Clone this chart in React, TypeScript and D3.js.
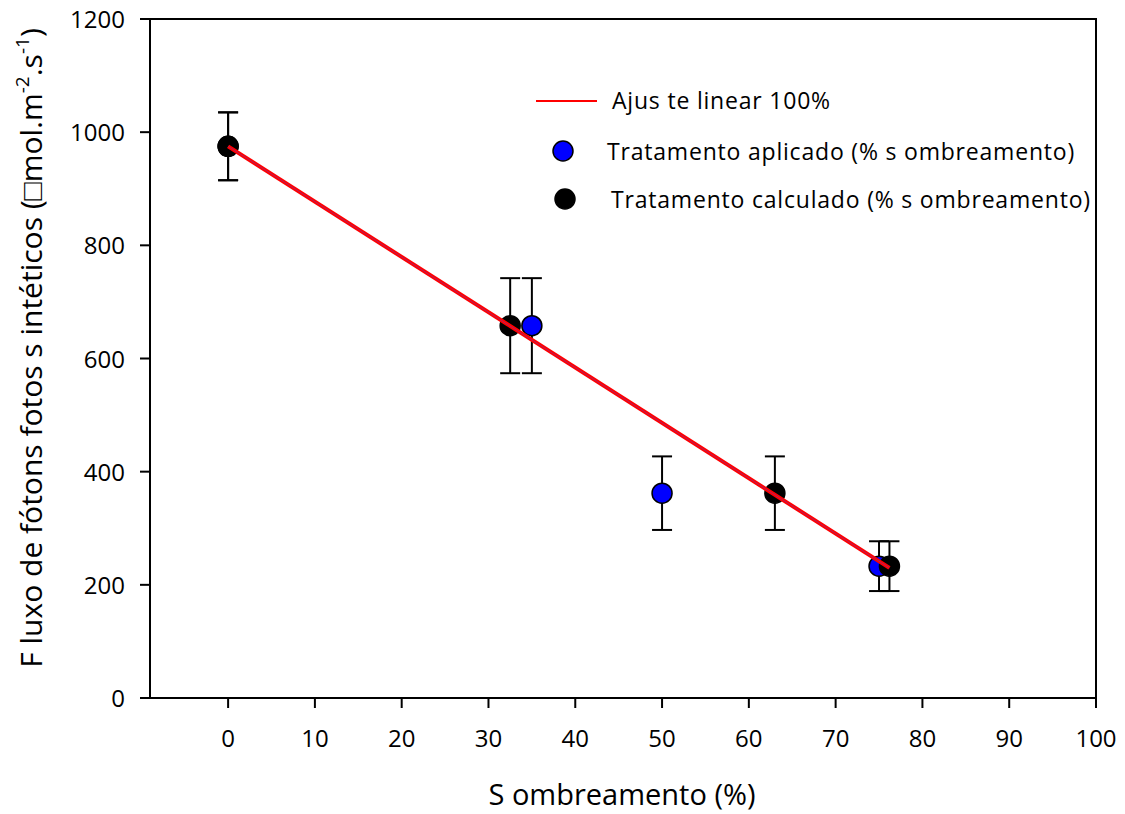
import { useEffect, useRef } from "react"
import * as d3 from "d3"

// shading (%) and photon flux for each treatment
const appliedX = [0, 35, 50, 75]
const calcX = [0, 32.5, 63, 76.2]
const fluxY = [975, 658, 362, 233]
const fluxErr = [60, 84, 65, 44]

// linear fit ends (x, y)
const fitX = [0, 76.2]
const fitY = [975, 230]

const xTicks = [0, 10, 20, 30, 40, 50, 60, 70, 80, 90, 100]
const yTicks = [0, 200, 400, 600, 800, 1000, 1200]

const W = 1125
const H = 814
const FONT = "'Open Sans', 'Noto Sans', sans-serif"

export default function App() {
  const ref = useRef<SVGSVGElement | null>(null)

  useEffect(() => {
    if (!ref.current) return
    const svg = d3.select(ref.current)
    svg.selectAll("*").remove()

    const left = 150, right = 1096, top = 19, bottom = 698
    const x = d3.scaleLinear().domain([-9, 100]).range([left, right])
    const y = d3.scaleLinear().domain([0, 1200]).range([bottom, top])

    // frame
    svg.append("rect")
      .attr("x", left).attr("y", top)
      .attr("width", right - left).attr("height", bottom - top)
      .attr("fill", "none").attr("stroke", "#000").attr("stroke-width", 2)

    // y axis ticks
    const yAxis = svg.append("g")
    yTicks.forEach((t) => {
      yAxis.append("line")
        .attr("x1", left - 10).attr("x2", left)
        .attr("y1", y(t)).attr("y2", y(t))
        .attr("stroke", "#000").attr("stroke-width", 2)
      yAxis.append("text")
        .attr("x", left - 25).attr("y", y(t) + 9)
        .attr("text-anchor", "end")
        .attr("font-family", FONT).attr("font-size", 24)
        .text(t)
    })

    // x axis ticks
    const xAxis = svg.append("g")
    xTicks.forEach((t) => {
      xAxis.append("line")
        .attr("x1", x(t)).attr("x2", x(t))
        .attr("y1", bottom).attr("y2", bottom + 10)
        .attr("stroke", "#000").attr("stroke-width", 2)
      xAxis.append("text")
        .attr("x", x(t)).attr("y", 747)
        .attr("text-anchor", "middle")
        .attr("font-family", FONT).attr("font-size", 24)
        .text(t)
    })

    // axis titles
    svg.append("text")
      .attr("x", 622).attr("y", 805)
      .attr("text-anchor", "middle")
      .attr("font-family", FONT).attr("font-size", 29)
      .text("S ombreamento (%)")

    const yt = svg.append("text")
      .attr("transform", "translate(42,348) rotate(-90)")
      .attr("text-anchor", "middle")
      .attr("font-family", FONT).attr("font-size", 30)
    yt.append("tspan").text("F luxo de fótons fotos s intéticos (□mol.m")
    yt.append("tspan").attr("font-size", 19).attr("dy", -13).text("-2")
    yt.append("tspan").attr("dy", 13).text(".s")
    yt.append("tspan").attr("font-size", 19).attr("dy", -13).text("-1")
    yt.append("tspan").attr("dy", 13).text(")")

    // points, sorted so later x sits on top
    const pts = [
      ...appliedX.map((v, i) => ({ x: v, y: fluxY[i], e: fluxErr[i], fill: "#0000ff", k: 0 })),
      ...calcX.map((v, i) => ({ x: v, y: fluxY[i], e: fluxErr[i], fill: "#000000", k: 1 })),
    ].sort((a, b) => a.x - b.x || a.k - b.k)

    const eb = svg.append("g").attr("stroke", "#000").attr("stroke-width", 2)
    pts.forEach((p) => {
      const cx = x(p.x)
      eb.append("line").attr("x1", cx).attr("x2", cx).attr("y1", y(p.y + p.e)).attr("y2", y(p.y - p.e))
      eb.append("line").attr("x1", cx - 10).attr("x2", cx + 10).attr("y1", y(p.y + p.e)).attr("y2", y(p.y + p.e))
      eb.append("line").attr("x1", cx - 10).attr("x2", cx + 10).attr("y1", y(p.y - p.e)).attr("y2", y(p.y - p.e))
    })

    svg.append("g").selectAll("circle")
      .data(pts)
      .enter()
      .append("circle")
      .attr("cx", (d) => x(d.x))
      .attr("cy", (d) => y(d.y))
      .attr("r", 10)
      .attr("fill", (d) => d.fill)
      .attr("stroke", "#000")
      .attr("stroke-width", 1.5)

    // fit line
    const line = d3.line<number>().x((d) => x(d)).y((d, i) => y(fitY[i]))
    svg.append("path").attr("d", line(fitX)).attr("stroke", "#ff0000").attr("stroke-width", 4).attr("fill", "none")
    svg.append("path").attr("d", line(fitX)).attr("stroke", "#6040c0").attr("stroke-width", 0.8).attr("opacity", 0.6).attr("fill", "none")

    // legend
    const lg = svg.append("g").attr("font-family", FONT).attr("font-size", 23).attr("letter-spacing", 0.8)
    lg.append("line").attr("x1", 536).attr("x2", 597).attr("y1", 101).attr("y2", 101).attr("stroke", "#ff0000").attr("stroke-width", 2)
    lg.append("text").attr("x", 612).attr("y", 109).text("Ajus te linear 100%")
    lg.append("circle").attr("cx", 563).attr("cy", 151).attr("r", 10).attr("fill", "#0000ff").attr("stroke", "#000").attr("stroke-width", 1.5)
    lg.append("text").attr("x", 607).attr("y", 160).text("Tratamento aplicado (% s ombreamento)")
    lg.append("circle").attr("cx", 565).attr("cy", 199).attr("r", 10).attr("fill", "#000").attr("stroke", "#000").attr("stroke-width", 1.5)
    lg.append("text").attr("x", 611).attr("y", 208).text("Tratamento calculado (% s ombreamento)")
  }, [])

  return (
    <svg
      ref={ref}
      width={W}
      height={H}
      style={{ position: "absolute", left: 0, top: 0, background: "#fff" }}
    />
  )
}
